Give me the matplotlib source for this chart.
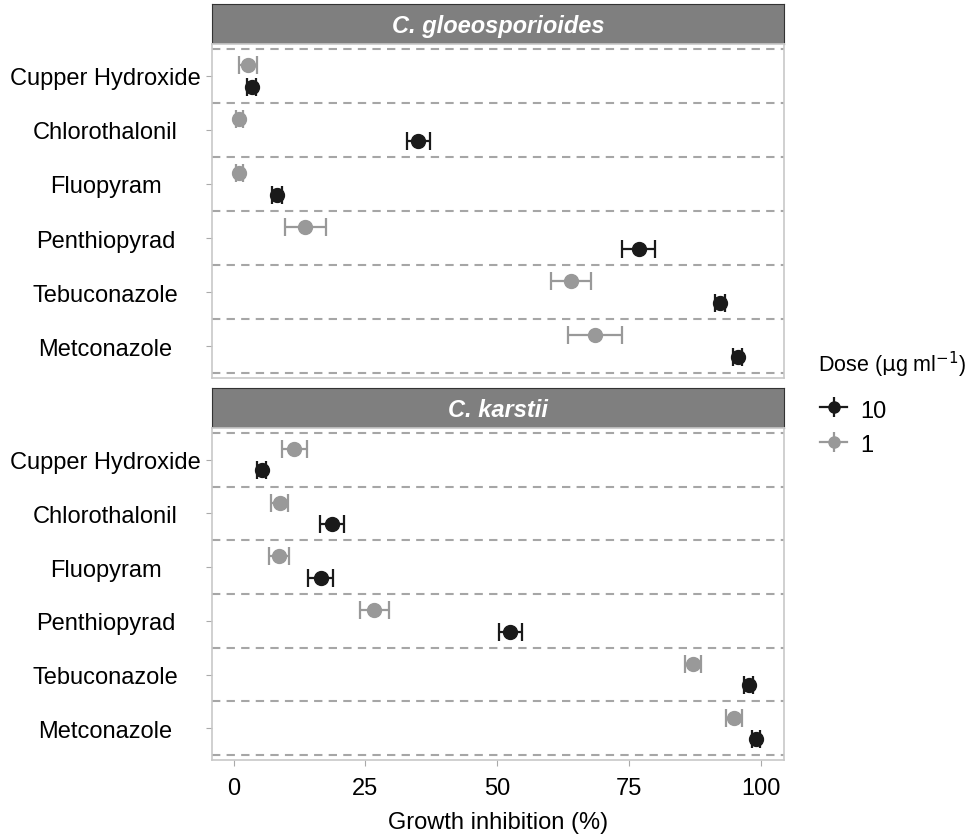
import matplotlib.pyplot as plt
from matplotlib.lines import Line2D

plt.rcParams['font.family'] = ['Liberation Sans', 'DejaVu Sans']

fungicides = ['Cupper Hydroxide', 'Chlorothalonil', 'Fluopyram',
              'Penthiopyrad', 'Tebuconazole', 'Metconazole']
species = ['C. gloeosporioides', 'C. karstii']

# growth inhibition (%) and error, per species, dose 10 and dose 1
gloeo_10 = [3.4, 35.0, 8.2, 76.8, 92.3, 95.6]
gloeo_10_err = [0.8, 2.2, 0.9, 3.1, 0.9, 0.9]
gloeo_1 = [2.8, 1.1, 1.1, 13.6, 64.0, 68.6]
gloeo_1_err = [1.7, 0.6, 0.6, 3.9, 3.75, 5.15]

karst_10 = [5.3, 18.6, 16.5, 52.5, 97.7, 99.1]
karst_10_err = [0.8, 2.25, 2.4, 2.2, 0.8, 0.8]
karst_1 = [11.5, 8.7, 8.6, 26.7, 87.2, 94.9]
karst_1_err = [2.4, 1.55, 1.95, 2.7, 1.5, 1.45]

doses = ['10', '1']
dose_colors = {'10': '#1a1a1a', '1': '#999999'}

data = {
    'C. gloeosporioides': {'10': (gloeo_10, gloeo_10_err), '1': (gloeo_1, gloeo_1_err)},
    'C. karstii': {'10': (karst_10, karst_10_err), '1': (karst_1, karst_1_err)},
}

W, H = 966, 837
fig = plt.figure(figsize=(W / 100, H / 100), dpi=100)

def px_axes(x0, y0, x1, y1):
    # pixel box (top-left origin) -> figure fraction
    return fig.add_axes([x0 / W, 1 - y1 / H, (x1 - x0) / W, (y1 - y0) / H])

panels = [(5, 45, 379), (389, 429, 761)]
fs = 17
border = '#c8c8c8'
n = len(fungicides)
offset = {'1': -0.2, '10': 0.2}

for k, (sp, (st_top, p_top, p_bot)) in enumerate(zip(species, panels)):
    strip = px_axes(211.7, st_top, 784, p_top)
    strip.set_facecolor('#7f7f7f')
    strip.set_xticks([])
    strip.set_yticks([])
    for s in strip.spines.values():
        s.set_color('#333333')
        s.set_linewidth(0.8)
    strip.text(0.5, 0.47, sp, color='white', fontsize=fs, fontweight='bold',
               fontstyle='italic', ha='center', va='center', transform=strip.transAxes)

    ax = px_axes(211.7, p_top, 784, p_bot)
    for b in range(n + 1):
        ax.axhline(b - 0.5, color='#a6a6a6', lw=1.5, ls=(0, (4, 3)), zorder=1)
    ys = list(range(n))
    for d in doses:
        vals, errs = data[sp][d]
        ax.errorbar(vals, [y + offset[d] for y in ys], xerr=errs, fmt='o',
                    color=dose_colors[d], ms=10, capsize=6.5, elinewidth=1.6,
                    capthick=1.6, zorder=3)
    ax.set_xlim(-4.17, 104.4)
    ax.set_ylim(n - 0.5 + 0.09, -0.5 - 0.09)
    ax.set_yticks(ys)
    ax.set_yticklabels(fungicides, fontsize=fs, ha='center')
    ax.tick_params(axis='y', length=4, color='#aaaaaa', pad=72.5)
    for s in ax.spines.values():
        s.set_color(border)
        s.set_linewidth(1.2)
    ax.set_xticks([0, 25, 50, 75, 100])
    if k == 0:
        ax.tick_params(axis='x', length=0, labelbottom=False)
    else:
        ax.tick_params(axis='x', length=4, color='#aaaaaa', labelsize=fs, pad=8)
        ax.set_xlabel('Growth inhibition (%)', fontsize=fs, labelpad=9)

fig.text(818 / W, 1 - 365 / H, r'Dose ($\mathrm{\mu}$g ml$^{-1}$)', fontsize=15.5,
         ha='left', va='center')

handles = []
for d in doses:
    c = dose_colors[d]
    handles.append((Line2D([], [], color=c, lw=1.6, marker='o', ms=8),
                    Line2D([], [], color=c, lw=0, marker='|', ms=15, mew=1.6)))
fig.legend(handles, doses, loc='center left', bbox_to_anchor=(820 / W, 1 - 428 / H),
           frameon=False, fontsize=fs, handlelength=1.15, handleheight=1.0,
           handletextpad=0.55, labelspacing=0.45, borderpad=0, borderaxespad=0)

fig.savefig('out.png', dpi=100)
